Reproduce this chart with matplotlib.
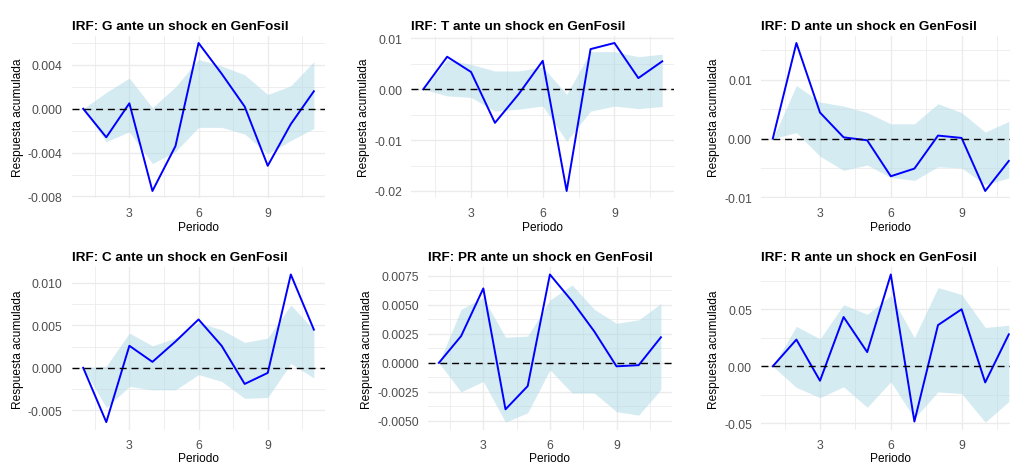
import matplotlib
matplotlib.use("Agg")
import matplotlib.pyplot as plt
from matplotlib.ticker import FixedLocator, FixedFormatter

plt.rcParams["font.family"] = ["Liberation Sans", "DejaVu Sans"]

periods = list(range(1, 12))
x_ticks = [3, 6, 9]

# IRF estimates and confidence bands
irf_g = [0, -0.0026, 0.0005, -0.0075, -0.0034, 0.0060, 0.0032, 0.0002, -0.0052, -0.0014, 0.0016]
lo_g = [0, -0.0030, -0.0021, -0.0050, -0.0039, -0.0017, -0.0017, -0.0023, -0.0041, -0.0029, -0.0018]
hi_g = [0, 0.0015, 0.0028, 0.0001, 0.0020, 0.0045, 0.0039, 0.0031, 0.0013, 0.0021, 0.0043]

irf_t = [0, 0.0064, 0.0034, -0.0066, -0.0009, 0.0056, -0.0200, 0.0079, 0.0091, 0.0022, 0.0055]
lo_t = [0, -0.0013, -0.0016, -0.0043, -0.0039, -0.0033, -0.0102, -0.0043, -0.0033, -0.0038, -0.0034]
hi_t = [0, 0.0058, 0.0049, 0.0036, 0.0036, 0.0044, -0.0010, 0.0074, 0.0074, 0.0064, 0.0069]

irf_d = [0, 0.0162, 0.0044, 0.0002, -0.0003, -0.0064, -0.0051, 0.0005, 0.0001, -0.0089, -0.0038]
lo_d = [0, 0.0010, -0.0030, -0.0054, -0.0045, -0.0066, -0.0071, -0.0048, -0.0050, -0.0078, -0.0067]
hi_d = [0, 0.0090, 0.0062, 0.0055, 0.0044, 0.0025, 0.0025, 0.0059, 0.0044, 0.0011, 0.0029]

irf_c = [0, -0.0064, 0.0026, 0.0007, 0.0031, 0.0057, 0.0026, -0.0019, -0.0006, 0.0110, 0.0045]
lo_c = [0, -0.0047, -0.0022, -0.0026, -0.0026, -0.0008, -0.0016, -0.0036, -0.0035, 0.0005, -0.0012]
hi_c = [0, 0.0002, 0.0041, 0.0026, 0.0035, 0.0053, 0.0045, 0.0030, 0.0035, 0.0074, 0.0045]

irf_pr = [0, 0.0023, 0.0064, -0.0040, -0.0020, 0.0076, 0.0053, 0.0027, -0.0003, -0.0002, 0.0022]
lo_pr = [0, -0.0025, -0.0016, -0.0051, -0.0043, -0.0006, -0.0026, -0.0026, -0.0042, -0.0045, -0.0023]
hi_pr = [0, 0.0046, 0.0056, 0.0022, 0.0023, 0.0054, 0.0067, 0.0046, 0.0034, 0.0037, 0.0051]

irf_r = [0, 0.0234, -0.0127, 0.0432, 0.0124, 0.0805, -0.0485, 0.0361, 0.0500, -0.0142, 0.0280]
lo_r = [0, -0.0186, -0.0275, -0.0180, -0.0360, -0.0136, -0.0456, -0.0225, -0.0240, -0.0490, -0.0310]
hi_r = [0, 0.0350, 0.0240, 0.0540, 0.0456, 0.0620, 0.0250, 0.0690, 0.0630, 0.0340, 0.0360]

names = ["G", "T", "D", "C", "PR", "R"]
series = [(irf_g, lo_g, hi_g), (irf_t, lo_t, hi_t), (irf_d, lo_d, hi_d),
          (irf_c, lo_c, hi_c), (irf_pr, lo_pr, hi_pr), (irf_r, lo_r, hi_r)]
y_ticks = [
    [-0.008, -0.004, 0.0, 0.004],
    [-0.02, -0.01, 0.0, 0.01],
    [-0.01, 0.0, 0.01],
    [-0.005, 0.0, 0.005, 0.010],
    [-0.005, -0.0025, 0.0, 0.0025, 0.005, 0.0075],
    [-0.05, 0.0, 0.05],
]
y_labels = [
    ["-0.008", "-0.004", "0.000", "0.004"],
    ["-0.02", "-0.01", "0.00", "0.01"],
    ["-0.01", "0.00", "0.01"],
    ["-0.005", "0.000", "0.005", "0.010"],
    ["-0.0050", "-0.0025", "0.0000", "0.0025", "0.0050", "0.0075"],
    ["-0.05", "0.00", "0.05"],
]

W, H = 1010, 464
# panel boxes in pixels: left, right, top, bottom
boxes = [
    (71.7, 325.4, 36.6, 199.4),
    (411.3, 674.2, 36.6, 199.4),
    (761.0, 1020.6, 36.6, 199.4),
    (71.7, 325.4, 268.1, 430.5),
    (427.8, 672.0, 268.1, 430.5),
    (761.0, 1020.6, 268.1, 430.5),
]

fig = plt.figure(figsize=(W / 100, H / 100), dpi=100)

for i, name in enumerate(names):
    l, r, t, b = boxes[i]
    ax = fig.add_axes([l / W, 1 - b / H, (r - l) / W, (b - t) / H])
    irf, lo, hi = series[i]

    ax.fill_between(periods, lo, hi, color="#add8e6", alpha=0.5, linewidth=0, zorder=2)
    ax.plot(periods, irf, color="blue", lw=1.4, solid_joinstyle="round", zorder=3)
    ax.axhline(0, color="black", lw=1.0, dashes=(5, 3.5), zorder=4)

    ymin = min(min(irf), min(lo), 0)
    ymax = max(max(irf), max(hi), 0)
    pad = (ymax - ymin) * 0.05
    ax.set_ylim(ymin - pad, ymax + pad)
    ax.set_xlim(0.5, 11.5)

    yt = y_ticks[i]
    step = yt[1] - yt[0]
    minor_y = [yt[0] - step / 2] + [v + step / 2 for v in yt]
    ax.yaxis.set_major_locator(FixedLocator(yt))
    ax.yaxis.set_major_formatter(FixedFormatter(y_labels[i]))
    ax.yaxis.set_minor_locator(FixedLocator(minor_y))
    ax.xaxis.set_major_locator(FixedLocator(x_ticks))
    ax.xaxis.set_minor_locator(FixedLocator([1.5, 4.5, 7.5, 10.5]))

    ax.grid(True, which="major", color="#ebebeb", lw=1.0, zorder=0)
    ax.grid(True, which="minor", color="#ebebeb", lw=0.6, zorder=0)
    ax.set_axisbelow(True)
    for s in ax.spines.values():
        s.set_visible(False)
    ax.tick_params(which="both", length=0, labelsize=8.8, labelcolor="#4d4d4d", pad=6.5)

    ax.set_xlabel("Periodo", fontsize=8.6, labelpad=1)
    ax.set_ylabel("Respuesta acumulada", fontsize=8.6, labelpad=3)
    ax.set_title(f"IRF: {name} ante un shock en GenFosil", loc="left",
                 fontsize=9.7, fontweight="bold", pad=5)

fig.savefig("out.png", dpi=100)
